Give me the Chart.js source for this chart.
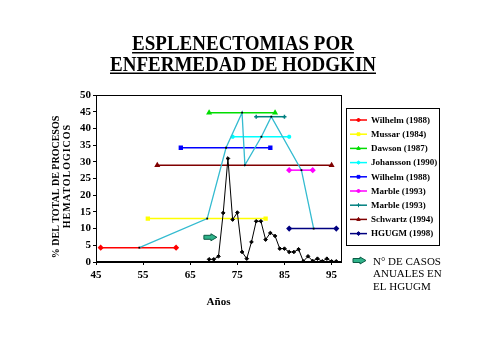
<!DOCTYPE html>
<html>
<head>
<meta charset="utf-8">
<script src="https://cdn.jsdelivr.net/npm/chart.js@4"></script>
<style>
  html, body { margin: 0; padding: 0; background: #fff; }
  #wrap { width: 480px; height: 360px; }
</style>
</head>
<body>
<div id="wrap"><canvas id="chart" width="480" height="360"></canvas></div>
<script>
// studies: period covered (years) and % of haematological processes
const studyNames = ["Wilhelm (1988)", "Mussar (1984)", "Dawson (1987)", "Johansson (1990)", "Wilhelm (1988)", "Marble (1993)", "Marble (1993)", "Schwartz (1994)", "HGUGM (1998)"];
const studyFrom = [46, 56, 69, 74, 63, 86, 79, 58, 86];
const studyTo = [62, 81, 83, 86, 82, 91, 85, 95, 96];
const studyPct = [4.3, 13, 44.7, 37.5, 34.2, 27.5, 43.5, 29, 10];

// line joining the middle of each study
const trendYears = [54.2, 68.6, 72.6, 76, 76.6, 80.1, 82.2, 88.6, 91.2];
const trendPct = [4.3, 13, 34.2, 44.7, 29, 37.5, 43.5, 27.5, 10];

// annual cases at HGUGM
const caseYears = [69, 70, 71, 72, 73, 74, 75, 76, 77, 78, 79, 80, 81, 82, 83, 84, 85, 86, 87, 88, 89, 90, 91, 92, 93, 94, 95, 96];
const caseValues = [0.8, 0.8, 1.7, 14.7, 31, 12.7, 14.8, 3, 1, 6, 12.2, 12.2, 6.7, 8.7, 7.8, 4, 4, 3, 3, 3.8, 0.2, 1.7, 0.3, 1, 0.2, 1, 0.2, 0.2];

const xTicks = [45, 55, 65, 75, 85, 95];

const studyColors = ["#FF0000", "#FFFF00", "#00DD00", "#00FFFF", "#0000FF", "#FF00FF", "#008080", "#800000", "#000080"];
const studyMarkers = ["rectRot", "rect", "triangle", "star", "rect", "rectRot", "cross", "triangle", "rectRot"];

const serif = '"Liberation Serif", "Times New Roman", serif';

const datasets = [];
datasets.push({
    label: "casos",
    data: caseYears.map((x, i) => ({ x: x, y: caseValues[i] })),
    borderColor: "#000",
    backgroundColor: "#000",
    borderWidth: 1,
    pointStyle: "rectRot",
    pointRadius: 1.8,
    order: 0
});
datasets.push({
    label: "media",
    data: trendYears.map((x, i) => ({ x: x, y: trendPct[i] })),
    borderColor: "#33BBD0",
    backgroundColor: "#000",
    borderWidth: 1.3,
    pointStyle: "rect",
    pointRadius: 1.3,
    pointBorderWidth: 0,
    order: 1
});
studyNames.forEach((name, i) => {
    datasets.push({
        label: name,
        data: [{ x: studyFrom[i], y: studyPct[i] }, { x: studyTo[i], y: studyPct[i] }],
        borderColor: studyColors[i],
        backgroundColor: studyColors[i],
        borderWidth: 1.5,
        pointStyle: studyMarkers[i],
        pointRadius: 2,
        order: 2
    });
});

function drawArrow(ctx, x, y) {
    ctx.beginPath();
    ctx.moveTo(x, y - 2);
    ctx.lineTo(x + 7, y - 2);
    ctx.lineTo(x + 7, y - 3.5);
    ctx.lineTo(x + 13, y);
    ctx.lineTo(x + 7, y + 3.5);
    ctx.lineTo(x + 7, y + 2);
    ctx.lineTo(x, y + 2);
    ctx.closePath();
    ctx.fillStyle = "#2FB38A";
    ctx.fill();
    ctx.strokeStyle = "#0B5A44";
    ctx.lineWidth = 1;
    ctx.stroke();
}

const decor = {
    id: "decor",
    afterDraw(chart) {
        const ctx = chart.ctx;
        const a = chart.chartArea;
        ctx.save();

        // plot frame
        ctx.strokeStyle = "#000";
        ctx.lineWidth = 1;
        ctx.strokeRect(Math.round(a.left) + 0.5, Math.round(a.top) + 0.5, Math.round(a.right - a.left), Math.round(a.bottom - a.top) - 1);

        // title, underlined
        ctx.fillStyle = "#000";
        ctx.font = "bold 19px " + serif;
        ctx.textAlign = "center";
        ctx.textBaseline = "alphabetic";
        [["ESPLENECTOMIAS POR", 50], ["ENFERMEDAD DE HODGKIN", 70.5]].forEach(([t, y]) => {
            ctx.save();
            ctx.translate(243, y);
            ctx.scale(1, 1.12);
            ctx.fillText(t, 0, 0);
            ctx.restore();
            const w = ctx.measureText(t).width;
            ctx.fillRect(243 - w / 2, y + 2, w, 1.5);
        });

        // axis titles
        ctx.font = "bold 10px " + serif;
        ctx.textBaseline = "middle";
        [["% DEL TOTAL DE PROCESOS", 56, 187, "0px"], ["HEMATOLOGICOS", 67, 176, "1px"]].forEach(([t, x, y, sp]) => {
            ctx.save();
            ctx.letterSpacing = sp;
            ctx.translate(x, y);
            ctx.rotate(-Math.PI / 2);
            ctx.fillText(t, 0, 0);
            ctx.restore();
        });
        ctx.font = "bold 11px " + serif;
        ctx.fillText("Años", (a.left + a.right) / 2, 302);

        // arrow marking the annual cases
        const xs = chart.scales.x, ys = chart.scales.y;
        drawArrow(ctx, xs.getPixelForValue(67.9), ys.getPixelForValue(7.4));

        // legend box
        ctx.strokeStyle = "#000";
        ctx.lineWidth = 1;
        ctx.strokeRect(346.5, 108.5, 93, 137);
        ctx.font = "bold 9px " + serif;
        ctx.textAlign = "left";
        studyNames.forEach((name, i) => {
            const y = 120 + i * 14.2;
            ctx.strokeStyle = studyColors[i];
            ctx.fillStyle = studyColors[i];
            ctx.lineWidth = 1.5;
            ctx.beginPath();
            ctx.moveTo(350, y);
            ctx.lineTo(367, y);
            ctx.stroke();
            ctx.lineWidth = 1;
            Chart.helpers.drawPoint(ctx, { pointStyle: studyMarkers[i], radius: 2, rotation: 0, borderWidth: 1 }, 358.5, y);
            ctx.fillStyle = "#000";
            ctx.fillText(name, 371, y + 0.5);
        });

        // note for the arrow
        drawArrow(ctx, 353, 260.5);
        ctx.fillStyle = "#000";
        ctx.font = "11px " + serif;
        ctx.textBaseline = "alphabetic";
        ctx.fillText("N° DE CASOS", 373, 264.5);
        ctx.fillText("ANUALES EN", 373, 277);
        ctx.fillText("EL HGUGM", 373, 289.5);

        ctx.restore();
    }
};

new Chart(document.getElementById("chart"), {
    type: "line",
    data: { datasets: datasets },
    options: {
        responsive: false,
        animation: false,
        layout: { padding: { left: 66, top: 95, right: 139, bottom: 73 } },
        plugins: { legend: { display: false }, tooltip: { enabled: false } },
        scales: {
            x: {
                type: "linear",
                min: 45,
                max: 97,
                afterBuildTicks: s => { s.ticks = xTicks.map(v => ({ value: v })); },
                afterFit: s => { s.height = 25; },
                grid: { drawOnChartArea: false, color: "#000", tickLength: 3 },
                border: { color: "#000" },
                ticks: { color: "#000", padding: 4, maxRotation: 0, font: { family: serif, size: 11, weight: "bold" } }
            },
            y: {
                min: 0,
                max: 50,
                afterFit: s => { s.width = 30; },
                grid: { drawOnChartArea: false, color: "#000", tickLength: 3 },
                border: { color: "#000" },
                ticks: { color: "#000", stepSize: 5, padding: 2, font: { family: serif, size: 11, weight: "bold" } }
            }
        }
    },
    plugins: [decor]
});
</script>
</body>
</html>
